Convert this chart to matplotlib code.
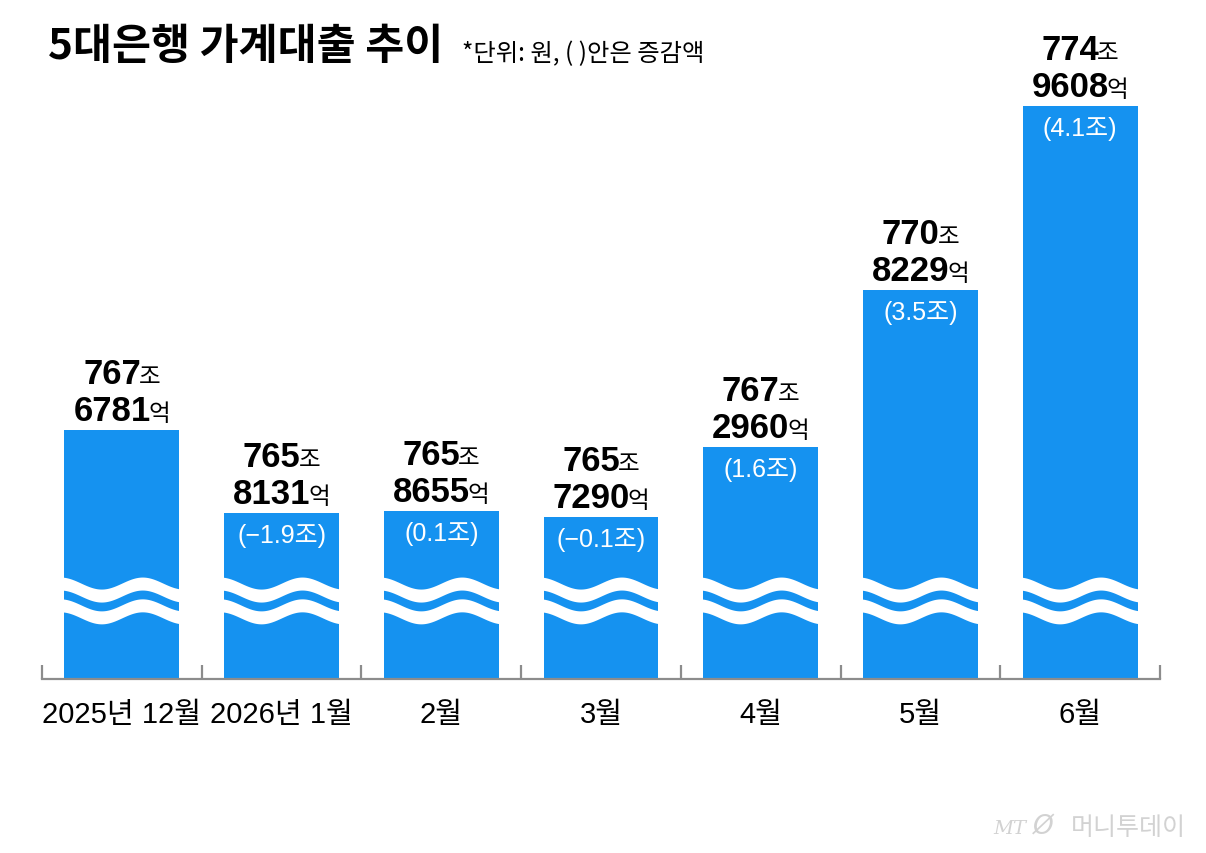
import matplotlib
matplotlib.use('Agg')
import matplotlib.pyplot as plt
import matplotlib.transforms as mtransforms
import numpy as np

# 5대은행 가계대출 잔액 (조 + 억) and month-on-month change (조)
months = ['2025년 12월', '2026년 1월', '2월', '3월', '4월', '5월', '6월']
jo = [767, 765, 765, 765, 767, 770, 774]
eok = [6781, 8131, 8655, 7290, 2960, 8229, 9608]
change = [None, -1.9, 0.1, -0.1, 1.6, 3.5, 4.1]

values = [j + e / 10000 for j, e in zip(jo, eok)]

BLUE = '#1592f0'
GREY = '#8c8c8c'
NUM_FONT = ['Liberation Sans', 'DejaVu Sans']
KR_FONT = ['Noto Sans CJK KR', 'DejaVu Sans']
MIX_FONT = ['Liberation Sans', 'Noto Sans CJK KR', 'DejaVu Sans']

W, H = 1206, 854
fig = plt.figure(figsize=(W / 100, H / 100), dpi=100)
fig.patch.set_facecolor('white')

# broken value axis: bottom of the axes is ~762.09조, 44.5 px per 조
y_bottom = 762.09
px_per_unit = 44.5
ax = fig.add_axes([42 / W, 174 / H, 1118 / W, 680 / H])
ax.set_xlim(-0.5, 6.5)
ax.set_ylim(y_bottom, y_bottom + 680 / px_per_unit)

x = np.arange(len(values))
ax.bar(x, values, width=0.72, color=BLUE, zorder=2)

# wavy "break" marks across each bar
for i in x:
    xs = np.linspace(i - 0.385, i + 0.385, 120)
    t = (xs - xs[0]) / (xs[-1] - xs[0])
    for c in (2.01, 1.52):
        mid = y_bottom + c + 0.135 * np.cos(3 * np.pi * t)
        ax.fill_between(xs, mid - 0.146, mid + 0.146, color='white', lw=0, zorder=3)

# axis styling
for s in ('top', 'left', 'right'):
    ax.spines[s].set_visible(False)
ax.spines['bottom'].set_color(GREY)
ax.spines['bottom'].set_linewidth(1.6)
ax.set_yticks([])
ax.set_xticks(x)
ax.set_xticklabels(months, fontsize=21, family=MIX_FONT)
ax.tick_params(axis='x', which='major', length=0, pad=15)
ax.set_xticks(np.arange(-0.5, 7, 1), minor=True)
ax.tick_params(axis='x', which='minor', direction='in', length=10, width=1.6, color=GREY)
ax.set_facecolor('none')

renderer = fig.canvas.get_renderer()


def two_part(xc, yc, dy, num, unit):
    t1 = ax.text(xc, yc, num, ha='right', va='baseline', fontsize=25,
                 fontweight='bold', family=NUM_FONT, zorder=5)
    t2 = ax.text(xc, yc, unit, ha='left', va='baseline', fontsize=17,
                 family=KR_FONT, zorder=5)
    w1 = t1.get_window_extent(renderer).width
    w2 = t2.get_window_extent(renderer).width
    tr = mtransforms.offset_copy(ax.transData, fig, x=(w1 - w2) / 2 + 1, y=dy, units='dots')
    t1.set_transform(tr)
    tr2 = mtransforms.offset_copy(ax.transData, fig, x=(w1 - w2) / 2 - 1, y=dy, units='dots')
    t2.set_transform(tr2)


for i, v in enumerate(values):
    two_part(i, v, 47, str(jo[i]), '조')
    two_part(i, v, 10, str(eok[i]), '억')
    if change[i] is not None:
        lbl = '({:.1f}조)'.format(change[i]).replace('-', '−')
        tr = mtransforms.offset_copy(ax.transData, fig, x=0, y=-22, units='dots')
        ax.text(i, v, lbl, transform=tr, ha='center', va='center', fontsize=18,
                color='white', family=MIX_FONT, zorder=5)

# title and note
fig.text(48 / W, 1 - 47 / H, '5대은행 가계대출 추이', fontsize=30.5, fontweight='heavy',
         family=KR_FONT, va='center', ha='left')
fig.text(462 / W, 1 - 54 / H, '*단위: 원, ( )안은 증감액', fontsize=17.5,
         family=KR_FONT, va='center', ha='left')

# watermark
fig.text(993 / W, 1 - 829 / H, 'MT', fontsize=14, style='italic', color='#d2d2d2',
         family=['DejaVu Serif'], va='center', ha='left')
fig.text(1033 / W, 1 - 828 / H, 'Ø', fontsize=19, style='italic', color='#d2d2d2',
         family=['DejaVu Sans'], va='center', ha='left')
fig.text(1186 / W, 1 - 828 / H, '머니투데이', fontsize=18, color='#d2d2d2',
         family=KR_FONT, va='center', ha='right')

fig.savefig('out.png', dpi=100)
